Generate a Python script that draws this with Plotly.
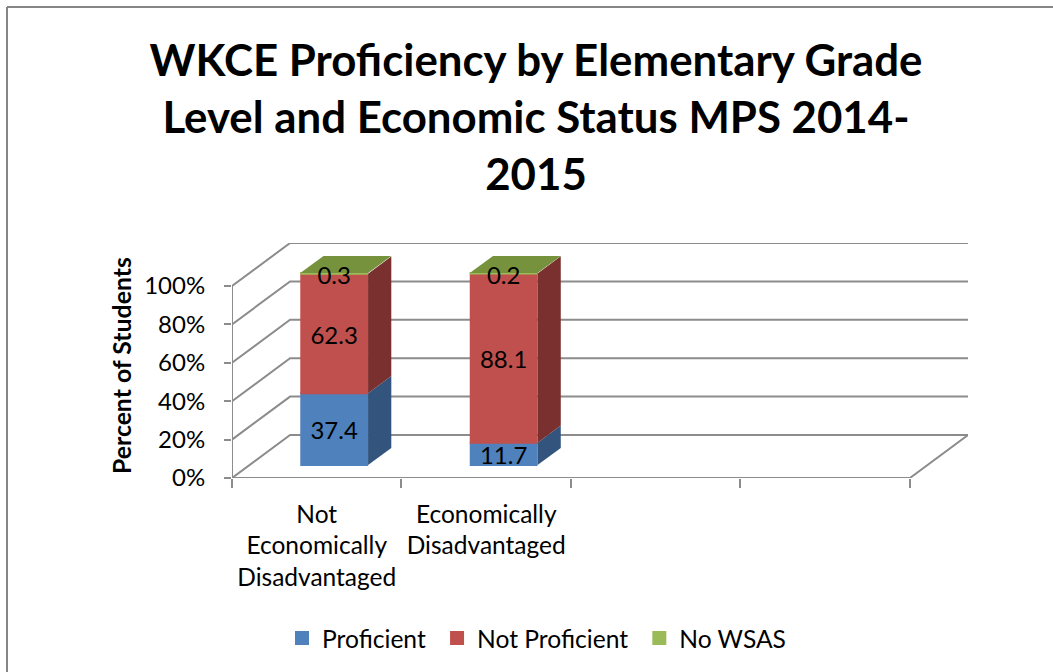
import plotly.graph_objects as go

categories = ["Not<br>Economically<br>Disadvantaged", "Economically<br>Disadvantaged", "", ""]
proficient = [37.4, 11.7]
not_proficient = [62.3, 88.1]
no_wsas = [0.3, 0.2]
y_ticks = [0, 20, 40, 60, 80, 100]
y_labels = ["0%", "20%", "40%", "60%", "80%", "100%"]

# trailing space only widens the legend pitch to match the original
series = [("Proficient\u00a0", proficient, "#4F81BD", "#32547D"),
          ("Not Proficient\u00a0", not_proficient, "#C0504D", "#7A302E"),
          ("No WSAS", no_wsas, "#9BBB59", "#5F7530")]
top_colour = "#76923C"
grid_colour = "#8C8C8C"
font_name = "Lato"

W, H = 1053, 672
# fake 3D: how far the back wall sits from the front plane, in axis units
depth_x = 58 / 169.25
depth_y = 43 / 1.92
bar_width = 0.4
bar_front = 0.3   # bars start and end part way into the floor
bar_back = 0.7
edge = 2          # bar outline, also what makes the legend swatch bigger
label_drop = 2.2  # Lato sits higher than the original font

fig = go.Figure()

# front faces
n = len(proficient)
cum = [0] * n
stacks = []
for name, vals, col, side in series:
    base = [cum[i] + bar_front * depth_y for i in range(n)]
    xs = [i + 0.5 + bar_front * depth_x for i in range(n)]
    fig.add_trace(go.Bar(x=xs, y=vals, base=base, width=bar_width - edge / 169.25, name=name,
                         marker=dict(color=col, line=dict(color=col, width=edge))))
    stacks.append((vals, list(cum), side))
    cum = [cum[i] + vals[i] for i in range(n)]

# side faces and top faces
dd_x = (bar_back - bar_front) * depth_x
dd_y = (bar_back - bar_front) * depth_y
for i in range(n):
    right = i + 0.5 + bar_front * depth_x + bar_width / 2
    left = right - bar_width
    for vals, low, side in stacks:
        y0 = low[i] + bar_front * depth_y
        y1 = y0 + vals[i]
        fig.add_trace(go.Scatter(x=[right, right + dd_x, right + dd_x, right, right],
                                 y=[y0, y0 + dd_y, y1 + dd_y, y1, y0],
                                 mode="lines", fill="toself", fillcolor=side,
                                 line=dict(width=0), showlegend=False, hoverinfo="skip"))
    yt = cum[i] + bar_front * depth_y
    fig.add_trace(go.Scatter(x=[left, right, right + dd_x, left + dd_x, left],
                             y=[yt, yt, yt + dd_y, yt + dd_y, yt],
                             mode="lines", fill="toself", fillcolor=top_colour,
                             line=dict(width=0), showlegend=False, hoverinfo="skip"))

# data labels
for vals, low, side in stacks:
    fig.add_trace(go.Scatter(x=[i + 0.5 + bar_front * depth_x for i in range(n)],
                             y=[low[i] + vals[i] / 2 + bar_front * depth_y - label_drop for i in range(n)],
                             mode="text", text=[str(v) for v in vals], textposition="middle center",
                             textfont=dict(family=font_name, size=24, color="black"),
                             showlegend=False, hoverinfo="skip"))

# walls and floor
shapes = []
line = dict(color=grid_colour, width=2)
ncat = len(categories)
for t in y_ticks:
    shapes.append(dict(type="path", layer="below", xref="x", yref="y", line=line,
                       path=f"M0,{t} L{depth_x},{t + depth_y} L{ncat + depth_x},{t + depth_y}"))
shapes.append(dict(type="path", layer="below", xref="x", yref="y", line=line,
                   path=f"M0,100 L0,0 L{ncat},0 L{ncat + depth_x},{depth_y}"))

# chart frame
shapes.append(dict(type="line", xref="paper", yref="paper", x0=7 / W, x1=1, y0=1 - 7 / H, y1=1 - 7 / H,
                   line=dict(color="#868686", width=2)))
shapes.append(dict(type="line", xref="paper", yref="paper", x0=7 / W, x1=7 / W, y0=0, y1=1 - 7 / H,
                   line=dict(color="#868686", width=2)))

fig.update_layout(
    width=W, height=H, autosize=False,
    margin=dict(l=0, r=0, t=0, b=0, autoexpand=False),
    paper_bgcolor="white", plot_bgcolor="white",
    barmode="overlay", shapes=shapes,
    font=dict(family=font_name, color="black"),
    title=dict(text="WKCE Proficiency by Elementary Grade<br>Level and Economic Status MPS 2014-<br>2015",
               x=536 / W, xanchor="center", y=1 - 76 / H, yanchor="middle",
               font=dict(family=font_name, size=43.8, color="black", weight="bold")),
    xaxis=dict(domain=[232 / W, 968 / W], range=[0, ncat + depth_x], automargin=False,
               tickmode="array", tickvals=[i + 0.5 for i in range(ncat)], ticktext=categories,
               ticks="", ticklabelstandoff=19, tickangle=0, showgrid=False, zeroline=False, showline=False,
               tickfont=dict(family=font_name, size=24.5),
               minor=dict(tickmode="array", tickvals=list(range(ncat + 1)), ticks="outside", ticklen=9,
                          tickwidth=2, tickcolor=grid_colour, showgrid=False)),
    yaxis=dict(domain=[1 - 478 / H, 1 - 243 / H], range=[0, 100 + depth_y], automargin=False,
               tickmode="array", tickvals=y_ticks, ticktext=y_labels,
               ticks="outside", ticklen=7, tickwidth=2, tickcolor=grid_colour,
               ticklabelstandoff=14, showgrid=False, zeroline=False, showline=False,
               tickfont=dict(family=font_name, size=24)),
    legend=dict(orientation="h", x=282 / W, xanchor="left", y=1 - 638 / H, yanchor="middle",
                font=dict(family=font_name, size=24.6), bgcolor="rgba(0,0,0,0)"),
    annotations=[dict(text="<b>Percent of Students</b>", xref="paper", yref="paper",
                      x=122 / W, xanchor="center", y=1 - 366 / H, yanchor="middle", textangle=-90, showarrow=False,
                      font=dict(family=font_name, size=24.8, color="black"))],
)

fig.write_html("out.html", config={"displayModeBar": False},
               post_script="document.body.style.margin = '0';")
